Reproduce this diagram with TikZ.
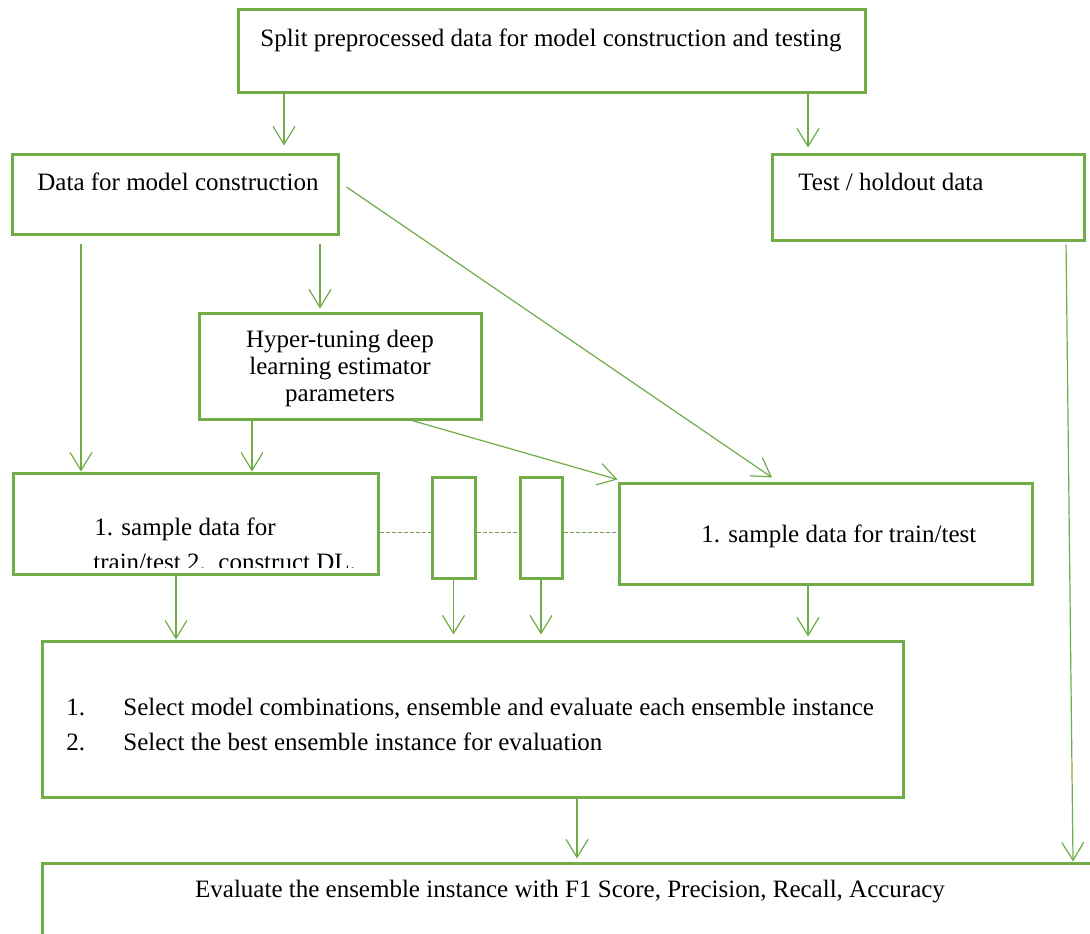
\documentclass[tikz,border=0pt]{standalone}
\usepackage{fontspec}
\setmainfont{Liberation Serif}
\usetikzlibrary{arrows.meta}
\definecolor{boxgreen}{HTML}{70AD47}
\tikzset{
	box/.style={rectangle, draw=boxgreen, line width=1.5pt, inner sep=0pt},
	txt/.style={inner sep=0pt, font=\fontsize{12.5}{13.5}\selectfont},
	flow/.style={draw=boxgreen, line width=0.6pt, -{Straight Barb[length=9pt,width=11pt]}},
	dots/.style={draw=boxgreen!60!gray, line width=0.4pt, dash pattern=on 2pt off 1pt}
}

\begin{document}
\begin{tikzpicture}[x=0.5pt, y=-0.5pt]
		\clip (0,0) rectangle (1090,933);
		\fill[white] (0,0) rectangle (1090,933);
		% Draw the boxes
		\node[box, minimum width=313.5pt, minimum height=41.5pt] (Split) at (551.5,50.5) {};
		\node[box, minimum width=163pt, minimum height=40pt] (Data) at (175,194) {};
		\node[box, minimum width=156pt, minimum height=43pt] (Test) at (928,197) {};
		\node[box, minimum width=141pt, minimum height=53pt] (Hyper) at (340,366) {};
		\node[box, minimum width=182.5pt, minimum height=50.5pt] (SampL) at (195.5,523.5) {};
		\node[box, minimum width=21.5pt, minimum height=50.5pt] (M1) at (453.5,527.5) {};
		\node[box, minimum width=21pt, minimum height=50.5pt] (M2) at (541,527.5) {};
		\node[box, minimum width=206.5pt, minimum height=50.5pt] (SampR) at (825.5,533.5) {};
		\node[box, minimum width=430.5pt, minimum height=78pt] (Sel) at (472.5,719) {};
		\node[box, minimum width=529pt, minimum height=43.5pt] (Eval) at (571,906.5) {};
		
		% Texts in the boxes
		\node[txt, anchor=base] (SplitText) at (551,46.5) {Split preprocessed data for model construction and testing};
		\node[txt, anchor=base west] (DataText) at (37,190) {Data for model construction};
		\node[txt, anchor=base west] (TestText) at (798,190) {Test / holdout data};
		\node[txt, anchor=base, align=center] (HyperText) at (340,401) {Hyper-tuning deep\\learning estimator\\parameters};
		\begin{scope}
			\clip (13,473) rectangle (378,567);
			\node[txt, anchor=base west] (SampLText) at (94,535) {1. sample data for};
			\node[txt, anchor=base west] (SampLMore) at (93,570) {train/test 2.\ \ construct DL.};
		\end{scope}
		\node[txt, anchor=base west] (SampRText) at (701,542) {1. sample data for train/test};
		\node[txt, anchor=base west] (SelOne) at (66,715) {1.};
		\node[txt, anchor=base west] (SelOneText) at (123,715) {Select model combinations, ensemble and evaluate each ensemble instance};
		\node[txt, anchor=base west] (SelTwo) at (66,750) {2.};
		\node[txt, anchor=base west] (SelTwoText) at (123,750) {Select the best ensemble instance for evaluation};
		\node[txt, anchor=base] (EvalText) at (570,897) {Evaluate the ensemble instance with F1 Score, Precision, Recall, Accuracy};
		
		% Draw the arrows
		\draw[flow, shorten >=3.5pt] (Split.south -| 284,0) -- (Data.north -| 284,0);
		\draw[flow, shorten >=2.5pt] (Split.south -| 808,0) -- (Test.north -| 808,0);
		\draw[flow, shorten <=4pt] (Data.south -| 81,0) -- (SampL.north -| 81,0);
		\draw[flow, shorten <=4pt, shorten >=1.5pt] (Data.south -| 320,0) -- (Hyper.north -| 320,0);
		\draw[flow] ([xshift=3.5pt, yshift=3.5pt]Data.east) -- ([xshift=-26.75pt, yshift=2pt]SampR.north);
		\draw[flow] (Hyper.south -| 252,0) -- (SampL.north -| 252,0);
		\draw[flow] (Hyper.south -| 412,0) -- ([yshift=1pt]SampR.north west);
		\draw[flow] (SampL.south -| 176,0) -- (Sel.north -| 176,0);
		\draw[flow, shorten >=2.5pt] (M1.south) -- (Sel.north -| M1.south);
		\draw[flow, shorten >=2.5pt] (M2.south) -- (Sel.north -| M2.south);
		\draw[flow, shorten >=1.5pt] (SampR.south -| 808,0) -- (Sel.north -| 808,0);
		\draw[flow, shorten >=1.5pt] (Sel.south -| 577,0) -- (Eval.north -| 577,0);
		\draw[flow, shorten <=1.5pt] (Test.south -| 1066,0) -- (Eval.north -| 1073,0);
		
		% Dashed links between the sample boxes
		\draw[dots] (SampL.east |- 0,532) -- (M1.west |- 0,532);
		\draw[dots] (M1.east |- 0,532) -- (M2.west |- 0,532);
		\draw[dots] (M2.east |- 0,532) -- (SampR.west |- 0,532);
	\end{tikzpicture}
\end{document}
